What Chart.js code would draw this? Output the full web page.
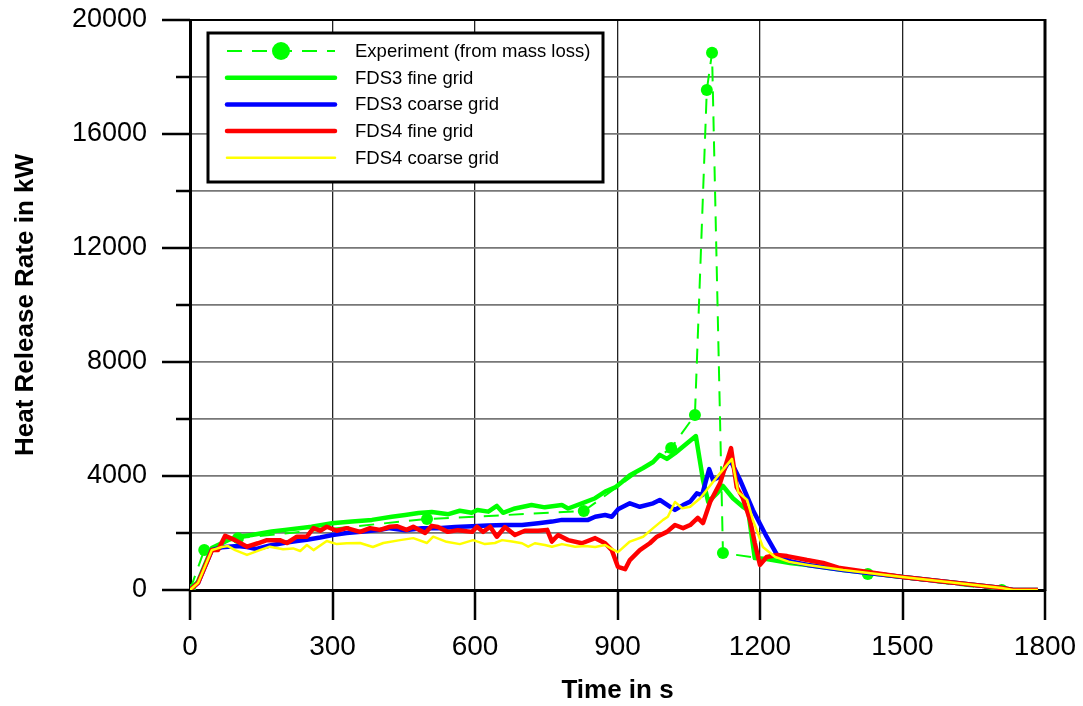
<!DOCTYPE html>
<html>
<head>
<meta charset="utf-8">
<script src="https://cdn.jsdelivr.net/npm/chart.js@4/dist/chart.umd.min.js"></script>
<style>
    html, body { margin: 0; padding: 0; background: #fff; }
    #wrap { width: 1083px; height: 706px; position: relative; }
</style>
</head>
<body>
<div id="wrap"><canvas id="hrrChart"></canvas></div>
<script>
const FONT = 'Arial, "Liberation Sans", sans-serif';

// Experiment (from mass loss)
const expTime = [0, 30, 101, 499, 829, 1013, 1063, 1088, 1099, 1122, 1427, 1709];
const expHrr  = [0, 1400, 1820, 2490, 2770, 4980, 6140, 17540, 18850, 1300, 560, 0];

// FDS3 fine grid
const fds3FineTime = [0, 17, 46, 59, 80, 101, 130, 172, 200, 256, 299, 341, 383, 425, 453, 481, 509, 544, 568, 593, 605, 628, 646, 659, 684, 719, 747, 783, 796, 825, 853, 874, 895, 910, 926, 954, 975, 989, 1004, 1021, 1042, 1065, 1080, 1091, 1110, 1122, 1143, 1164, 1175, 1189, 1214, 1263, 1300, 1375, 1500, 1709, 1733, 1785];
const fds3FineHrr  = [0, 300, 1470, 1580, 1750, 1870, 1930, 2050, 2110, 2220, 2340, 2400, 2460, 2570, 2630, 2700, 2740, 2660, 2780, 2710, 2810, 2750, 2950, 2710, 2860, 2980, 2900, 2980, 2860, 3040, 3220, 3450, 3600, 3800, 4030, 4280, 4490, 4740, 4600, 4800, 5090, 5400, 3860, 3090, 3400, 3650, 3220, 2920, 2800, 1120, 1090, 950, 880, 700, 460, 70, 0, 0];

// FDS3 coarse grid
const fds3CoarseTime = [0, 17, 46, 67, 100, 120, 140, 168, 200, 225, 246, 274, 300, 330, 360, 400, 421, 453, 488, 522, 558, 594, 627, 663, 699, 733, 762, 783, 804, 838, 853, 874, 888, 901, 926, 947, 975, 989, 1011, 1021, 1038, 1053, 1067, 1078, 1093, 1101, 1116, 1137, 1158, 1185, 1214, 1236, 1263, 1300, 1375, 1500, 1709, 1733, 1785];
const fds3CoarseHrr  = [0, 250, 1400, 1500, 1540, 1510, 1440, 1560, 1660, 1720, 1760, 1840, 1930, 2000, 2040, 2110, 2170, 2100, 2170, 2170, 2210, 2240, 2260, 2280, 2280, 2340, 2400, 2460, 2460, 2460, 2570, 2630, 2570, 2830, 3040, 2920, 3040, 3160, 2920, 2810, 2980, 3100, 3390, 3330, 4240, 3860, 3980, 4580, 3860, 2810, 1870, 1230, 1010, 880, 700, 460, 70, 0, 0];

// FDS4 fine grid
const fds4FineTime = [0, 17, 46, 59, 74, 95, 120, 143, 162, 189, 204, 225, 246, 260, 274, 288, 309, 330, 358, 379, 400, 421, 435, 456, 470, 495, 509, 522, 543, 564, 594, 604, 617, 632, 646, 663, 684, 705, 733, 752, 762, 775, 796, 825, 853, 874, 888, 901, 916, 926, 947, 968, 983, 1004, 1021, 1038, 1053, 1069, 1080, 1095, 1116, 1139, 1151, 1164, 1179, 1189, 1200, 1214, 1236, 1257, 1299, 1333, 1368, 1500, 1709, 1733, 1785];
const fds4FineHrr  = [0, 250, 1400, 1400, 1900, 1750, 1520, 1640, 1750, 1750, 1650, 1870, 1870, 2170, 2080, 2220, 2080, 2170, 2040, 2170, 2110, 2220, 2240, 2110, 2220, 2000, 2250, 2210, 2040, 2100, 2040, 2220, 2040, 2220, 1870, 2210, 1930, 2080, 2080, 2110, 1700, 1930, 1750, 1640, 1820, 1640, 1400, 810, 730, 1050, 1400, 1640, 1870, 2040, 2280, 2170, 2280, 2530, 2350, 3090, 3750, 4980, 3610, 3220, 2460, 1650, 880, 1160, 1230, 1190, 1050, 950, 770, 460, 70, 0, 0];

// FDS4 coarse grid
const fds4CoarseTime = [0, 17, 46, 67, 80, 95, 120, 147, 168, 196, 217, 232, 246, 260, 288, 309, 330, 358, 385, 407, 442, 470, 499, 512, 540, 568, 596, 621, 642, 657, 678, 699, 712, 726, 747, 762, 783, 811, 832, 853, 874, 888, 901, 926, 954, 975, 996, 1006, 1021, 1036, 1053, 1074, 1091, 1116, 1141, 1154, 1173, 1185, 1206, 1232, 1263, 1300, 1375, 1500, 1709, 1733, 1785];
const fds4CoarseHrr  = [0, 250, 1400, 1510, 1540, 1400, 1230, 1400, 1520, 1430, 1460, 1370, 1580, 1400, 1720, 1610, 1640, 1650, 1510, 1650, 1750, 1820, 1650, 1870, 1690, 1610, 1750, 1610, 1650, 1750, 1700, 1640, 1520, 1640, 1580, 1520, 1610, 1520, 1540, 1510, 1580, 1440, 1330, 1700, 1870, 2170, 2460, 2570, 3090, 2870, 2920, 3220, 3580, 4100, 4600, 3440, 3160, 2460, 1510, 1160, 980, 880, 700, 460, 70, 0, 0];

const seriesLabels = ['Experiment (from mass loss)', 'FDS3 fine grid', 'FDS3 coarse grid', 'FDS4 fine grid', 'FDS4 coarse grid'];

const toPoints = (ts, vs) => ts.map((t, i) => ({ x: t, y: vs[i] }));

// fixed axis boxes, no extra label padding from the layout
const fixBox = size => s => {
    if (s.isHorizontal()) s.height = size; else s.width = size;
    s.paddingTop = s.paddingBottom = s.paddingLeft = s.paddingRight = 0;
};

// outside tick marks, right frame line, top line
const frameTicks = {
    id: 'frameTicks',
    afterDraw(chart) {
        const { ctx, chartArea: a, scales: { x, y } } = chart;
        ctx.save();
        ctx.strokeStyle = '#000';
        ctx.lineWidth = 2.5;
        ctx.beginPath();
        for (let v = 0; v <= 20000; v += 2000) {
            const py = Math.round(y.getPixelForValue(v));
            const len = v % 4000 === 0 ? 28 : 14;
            ctx.moveTo(a.left - len, py);
            ctx.lineTo(a.left, py);
        }
        for (let t = 0; t <= 1800; t += 300) {
            const px = Math.round(x.getPixelForValue(t));
            ctx.moveTo(px, a.bottom);
            ctx.lineTo(px, a.bottom + 30);
        }
        ctx.stroke();
        ctx.lineWidth = 3;
        ctx.beginPath();
        ctx.moveTo(a.right, a.top - 1);
        ctx.lineTo(a.right, a.bottom + 1);
        ctx.stroke();
        ctx.lineWidth = 2;
        ctx.beginPath();
        ctx.moveTo(a.left, a.top);
        ctx.lineTo(a.right, a.top);
        ctx.stroke();
        ctx.restore();
    }
};

// boxed legend in the upper left of the plot
const boxLegend = {
    id: 'boxLegend',
    afterDraw(chart) {
        const { ctx } = chart;
        const bx = 208, by = 33, bw = 395, bh = 149;
        ctx.save();
        ctx.fillStyle = '#fff';
        ctx.fillRect(bx, by, bw, bh);
        ctx.strokeStyle = '#000';
        ctx.lineWidth = 3;
        ctx.strokeRect(bx, by, bw, bh);
        ctx.font = '18.5px ' + FONT;
        ctx.textBaseline = 'middle';
        ctx.fillStyle = '#000';
        chart.data.datasets.forEach((ds, i) => {
            const ry = 51 + i * 26.7;
            ctx.strokeStyle = ds.borderColor;
            ctx.lineWidth = ds.borderWidth;
            ctx.setLineDash(ds.borderDash || []);
            ctx.lineCap = ds.borderDash ? 'butt' : 'round';
            ctx.beginPath();
            ctx.moveTo(227, ry);
            ctx.lineTo(335, ry);
            ctx.stroke();
            ctx.setLineDash([]);
            if (ds.pointRadius) {
                ctx.fillStyle = ds.pointBackgroundColor;
                ctx.beginPath();
                ctx.arc(281, ry, 9, 0, Math.PI * 2);
                ctx.fill();
                ctx.fillStyle = '#000';
            }
            ctx.fillText(ds.label, 355, ry + 1);
        });
        ctx.restore();
    }
};

new Chart(document.getElementById('hrrChart'), {
    type: 'line',
    data: {
        datasets: [
            {
                label: seriesLabels[0],
                data: toPoints(expTime, expHrr),
                borderColor: '#00ff00',
                backgroundColor: '#00ff00',
                pointBackgroundColor: '#00ff00',
                pointBorderWidth: 0,
                pointRadius: 6,
                borderWidth: 2,
                borderDash: [15, 10],
                order: 5
            },
            { label: seriesLabels[1], data: toPoints(fds3FineTime, fds3FineHrr), borderColor: '#00ff00', borderWidth: 4.5, pointRadius: 0, order: 4 },
            { label: seriesLabels[2], data: toPoints(fds3CoarseTime, fds3CoarseHrr), borderColor: '#0000ff', borderWidth: 4.5, pointRadius: 0, order: 3 },
            { label: seriesLabels[3], data: toPoints(fds4FineTime, fds4FineHrr), borderColor: '#ff0000', borderWidth: 4.5, pointRadius: 0, order: 2 },
            { label: seriesLabels[4], data: toPoints(fds4CoarseTime, fds4CoarseHrr), borderColor: '#ffff00', borderWidth: 2.5, pointRadius: 0, order: 1 }
        ]
    },
    options: {
        responsive: true,
        maintainAspectRatio: false,
        animation: false,
        events: [],
        layout: { padding: { top: 20, right: 38, left: 0, bottom: 0 } },
        elements: { line: { tension: 0, borderJoinStyle: 'round' } },
        plugins: {
            legend: { display: false },
            tooltip: { enabled: false }
        },
        scales: {
            x: {
                type: 'linear',
                min: 0,
                max: 1800,
                afterFit: fixBox(116),
                ticks: { stepSize: 300, padding: 40, color: '#000', font: { family: FONT, size: 28 }, maxRotation: 0, callback: v => String(v) },
                grid: { drawTicks: false, color: '#222', lineWidth: 1.3 },
                border: { display: true, color: '#000', width: 3 },
                title: { display: true, text: 'Time in s', color: '#000', font: { family: FONT, size: 26, weight: 'bold' }, padding: { top: 0, bottom: 0 } }
            },
            y: {
                min: 0,
                max: 20000,
                afterFit: fixBox(190),
                ticks: {
                    stepSize: 2000,
                    autoSkip: false,
                    padding: 43,
                    color: '#000',
                    font: { family: FONT, size: 27 },
                    callback: v => (v % 4000 === 0 ? String(v) : '')
                },
                grid: { drawTicks: false, color: '#777', lineWidth: 1.8 },
                border: { display: true, color: '#000', width: 3 },
                title: { display: true, text: 'Heat Release Rate in kW', color: '#000', font: { family: FONT, size: 26, weight: 'bold' }, padding: { top: 10, bottom: 0 } }
            }
        }
    },
    plugins: [frameTicks, boxLegend]
});
</script>
</body>
</html>
